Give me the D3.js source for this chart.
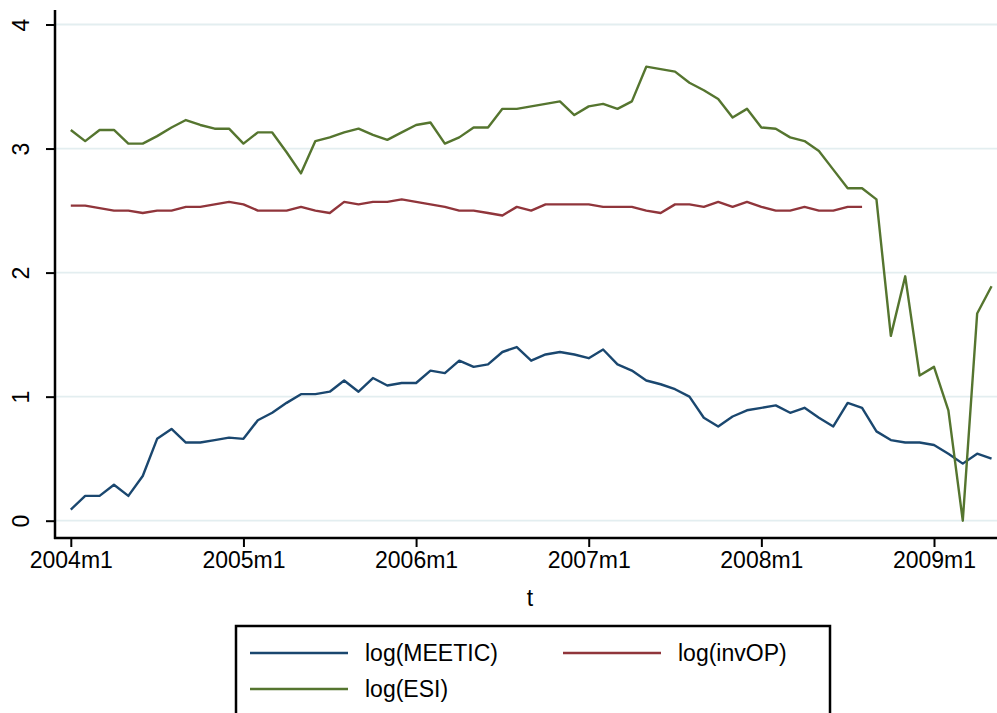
<!DOCTYPE html>
<html>
<head>
<meta charset="utf-8">
<script src="https://cdn.jsdelivr.net/npm/d3@7"></script>
<style>
  body { margin: 0; background: #fff; }
  text { font-family: "Liberation Sans", Arial, Helvetica, sans-serif; fill: #000; }
</style>
</head>
<body>
<div id="chart-area"></div>
<script>
// monthly series, 2004m1 onwards (index 0 = 2004m1)
const meetic = [0.09, 0.20, 0.20, 0.29, 0.20, 0.36, 0.66, 0.74, 0.63, 0.63, 0.65, 0.67,
  0.66, 0.81, 0.87, 0.95, 1.02, 1.02, 1.04, 1.13, 1.04, 1.15, 1.09, 1.11,
  1.11, 1.21, 1.19, 1.29, 1.24, 1.26, 1.36, 1.40, 1.29, 1.34, 1.36, 1.34,
  1.31, 1.38, 1.26, 1.21, 1.13, 1.10, 1.06, 1.00, 0.83, 0.76, 0.84, 0.89,
  0.91, 0.93, 0.87, 0.91, 0.83, 0.76, 0.95, 0.91, 0.72, 0.65, 0.63, 0.63,
  0.61, 0.54, 0.46, 0.54, 0.50]

const invOP = [2.54, 2.54, 2.52, 2.50, 2.50, 2.48, 2.50, 2.50, 2.53, 2.53, 2.55, 2.57,
  2.55, 2.50, 2.50, 2.50, 2.53, 2.50, 2.48, 2.57, 2.55, 2.57, 2.57, 2.59,
  2.57, 2.55, 2.53, 2.50, 2.50, 2.48, 2.46, 2.53, 2.50, 2.55, 2.55, 2.55,
  2.55, 2.53, 2.53, 2.53, 2.50, 2.48, 2.55, 2.55, 2.53, 2.57, 2.53, 2.57,
  2.53, 2.50, 2.50, 2.53, 2.50, 2.50, 2.53, 2.53]

const esi = [3.15, 3.06, 3.15, 3.15, 3.04, 3.04, 3.10, 3.17, 3.23, 3.19, 3.16, 3.16,
  3.04, 3.13, 3.13, 2.97, 2.80, 3.06, 3.09, 3.13, 3.16, 3.11, 3.07, 3.13,
  3.19, 3.21, 3.04, 3.09, 3.17, 3.17, 3.32, 3.32, 3.34, 3.36, 3.38, 3.27,
  3.34, 3.36, 3.32, 3.38, 3.66, 3.64, 3.62, 3.53, 3.47, 3.40, 3.25, 3.32,
  3.17, 3.16, 3.09, 3.06, 2.98, 2.83, 2.68, 2.68, 2.59, 1.49, 1.97, 1.17,
  1.24, 0.89, 0.00, 1.67, 1.89]

const xTickMonths = [0, 12, 24, 36, 48, 60]
const xTickLabels = ["2004m1", "2005m1", "2006m1", "2007m1", "2008m1", "2009m1"]
const yTicks = [0, 1, 2, 3, 4]

const series = [
  {name: "log(MEETIC)", values: meetic, color: "#1a476f"},
  {name: "log(invOP)", values: invOP, color: "#90353b"},
  {name: "log(ESI)", values: esi, color: "#55752f"}
]

const W = 997, H = 713
const PLOT = {LEFT: 55, RIGHT: 997, TOP: 10, BOTTOM: 538}
const FONT = "23px"

const svg = d3.select("#chart-area").append("svg")
  .attr("width", W)
  .attr("height", H)

const x = d3.scaleLinear()
  .domain([0, 60])
  .range([70.8, 934])

const y = d3.scaleLinear()
  .domain([0, 4])
  .range([520.7, 24.5])

// gridlines
svg.append("g").selectAll("line")
  .data(yTicks)
  .enter().append("line")
  .attr("x1", PLOT.LEFT)
  .attr("x2", PLOT.RIGHT)
  .attr("y1", d => y(d))
  .attr("y2", d => y(d))
  .attr("stroke", "#e3eef0")
  .attr("stroke-width", 1.8)

// series lines
const line = d3.line()
  .x((d, i) => x(i))
  .y(d => y(d))

svg.append("g").selectAll("path")
  .data(series)
  .enter().append("path")
  .attr("d", d => line(d.values))
  .attr("fill", "none")
  .attr("stroke", d => d.color)
  .attr("stroke-width", 2.4)
  .attr("stroke-linejoin", "round")

// y axis
const yAxisCall = d3.axisLeft(y).tickValues(yTicks).tickFormat(d3.format("d")).tickSize(9).tickSizeOuter(0)
const yAxisGroup = svg.append("g")
  .attr("transform", `translate(${PLOT.LEFT}, 0)`)
  .call(yAxisCall)
yAxisGroup.select(".domain").remove()
yAxisGroup.selectAll(".tick line").attr("stroke", "#000").attr("stroke-width", 2)
yAxisGroup.selectAll("text")
  .attr("x", 0)
  .attr("dy", 0)
  .attr("text-anchor", "middle")
  .attr("transform", "translate(-26, 0) rotate(-90)")
  .attr("font-size", FONT)

// x axis
const xAxisCall = d3.axisBottom(x)
  .tickValues(xTickMonths)
  .tickFormat((d, i) => xTickLabels[i])
  .tickSize(9)
  .tickSizeOuter(0)
  .tickPadding(5)
const xAxisGroup = svg.append("g")
  .attr("transform", `translate(0, ${PLOT.BOTTOM})`)
  .call(xAxisCall)
xAxisGroup.select(".domain").remove()
xAxisGroup.selectAll(".tick line").attr("stroke", "#000").attr("stroke-width", 2)
xAxisGroup.selectAll("text").attr("font-size", FONT)

// axis lines
svg.append("line")
  .attr("x1", PLOT.LEFT).attr("x2", PLOT.LEFT)
  .attr("y1", PLOT.TOP).attr("y2", PLOT.BOTTOM + 1)
  .attr("stroke", "#000").attr("stroke-width", 2.5)
svg.append("line")
  .attr("x1", PLOT.LEFT - 1).attr("x2", PLOT.RIGHT)
  .attr("y1", PLOT.BOTTOM).attr("y2", PLOT.BOTTOM)
  .attr("stroke", "#000").attr("stroke-width", 2.5)

svg.append("text")
  .attr("x", (PLOT.LEFT + PLOT.RIGHT) / 2 + 4)
  .attr("y", 606)
  .attr("text-anchor", "middle")
  .attr("font-size", FONT)
  .text("t")

// legend
const legend = svg.append("g")
legend.append("rect")
  .attr("x", 236)
  .attr("y", 626)
  .attr("width", 594)
  .attr("height", 120)
  .attr("fill", "#fff")
  .attr("stroke", "#000")
  .attr("stroke-width", 2.5)

const legendPos = [
  {lx: 250, ly: 653},
  {lx: 563, ly: 653},
  {lx: 250, ly: 689}
]

const items = legend.selectAll(".item")
  .data(series)
  .enter().append("g")
  .attr("class", "item")
  .attr("transform", (d, i) => `translate(${legendPos[i].lx}, ${legendPos[i].ly})`)

items.append("line")
  .attr("x1", 0).attr("x2", 98)
  .attr("stroke", d => d.color)
  .attr("stroke-width", 2.5)

items.append("text")
  .attr("x", 115)
  .attr("dy", "0.35em")
  .attr("font-size", FONT)
  .text(d => d.name)
</script>
</body>
</html>
